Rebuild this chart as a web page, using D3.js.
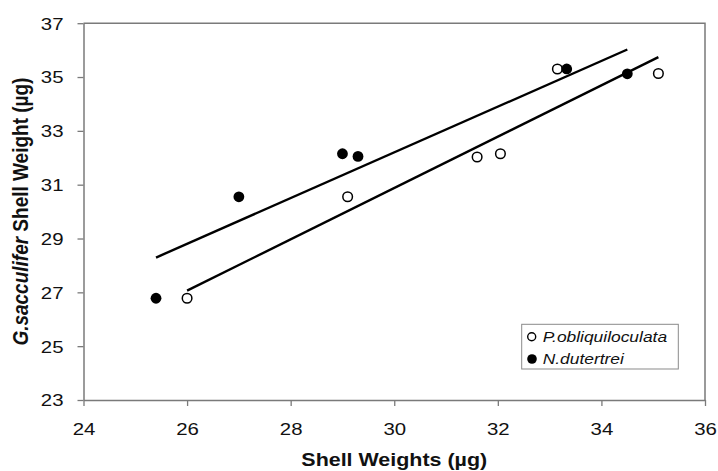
<!DOCTYPE html>
<html>
<head>
<meta charset="utf-8">
<script src="https://cdn.jsdelivr.net/npm/d3@7"></script>
<style>
  html, body { margin: 0; padding: 0; background: #fff; }
  svg { display: block; font-family: "Liberation Sans", Arial, sans-serif; }
</style>
</head>
<body>
<svg id="chart" width="718" height="471"></svg>
<script>
// Shell weights (µg): x = species weight, y = G.sacculifer weight
const obliqX = [26.0, 29.1, 31.6, 32.05, 33.15, 35.1];
const obliqY = [26.78, 30.55, 32.03, 32.15, 35.3, 35.13];
const duterX = [25.4, 27.0, 29.0, 29.3, 33.33, 34.5];
const duterY = [26.78, 30.55, 32.15, 32.05, 35.3, 35.12];
const seriesNames = ["P.obliquiloculata", "N.dutertrei"];
const xTicks = [24, 26, 28, 30, 32, 34, 36];
const yTicks = [23, 25, 27, 29, 31, 33, 35, 37];

const W = 718, H = 471;
const m = { top: 23.2, left: 83.5, right: 13, bottom: 71 };
const innerW = W - m.left - m.right;
const innerH = H - m.top - m.bottom;
const sx = 1.2; // horizontal glyph widening of the typeface
const axisGray = "#7a7a7a";

const svg = d3.select("#chart");
const g = svg.append("g").attr("transform", `translate(${m.left},${m.top})`);

const x = d3.scaleLinear().domain([24, 36]).range([0, innerW]);
const y = d3.scaleLinear().domain([23, 37]).range([innerH, 0]);

// frame: top and right edges
g.append("path")
  .attr("d", `M0,0H${innerW}V${innerH}`)
  .attr("fill", "none").attr("stroke", axisGray).attr("stroke-width", 1.5);

// axes
const xAxis = g.append("g").attr("transform", `translate(0,${innerH})`)
  .call(d3.axisBottom(x).tickValues(xTicks).tickSize(6).tickSizeOuter(0).tickFormat(d3.format("d")));
const yAxis = g.append("g")
  .call(d3.axisLeft(y).tickValues(yTicks).tickSize(6).tickSizeOuter(0).tickFormat(d3.format("d")));

[xAxis, yAxis].forEach(a => {
  a.select(".domain").attr("stroke", axisGray).attr("stroke-width", 1.5);
  a.selectAll(".tick line").attr("stroke", axisGray).attr("stroke-width", 1.3);
  a.selectAll(".tick text")
    .attr("font-family", "Liberation Sans, Arial, sans-serif")
    .attr("font-size", 17).attr("fill", "#111");
});
xAxis.selectAll(".tick text")
  .attr("y", 0).attr("dy", 0).attr("text-anchor", "middle")
  .attr("transform", `translate(0,34.5) scale(${sx},1)`);
yAxis.selectAll(".tick text")
  .attr("x", 0).attr("dy", "0.35em").attr("text-anchor", "end")
  .attr("transform", `translate(-20,0) scale(${sx},1)`);

// least-squares trend line over each series' x-range
function fit(xs, ys) {
  const mx = d3.mean(xs), my = d3.mean(ys);
  let sxy = 0, sxx = 0;
  xs.forEach((v, i) => { sxy += (v - mx) * (ys[i] - my); sxx += (v - mx) * (v - mx); });
  const b = sxy / sxx, a = my - b * mx;
  const x0 = d3.min(xs), x1 = d3.max(xs);
  return [[x0, a + b * x0], [x1, a + b * x1]];
}
const line = d3.line().x(d => x(d[0])).y(d => y(d[1]));
[[duterX, duterY], [obliqX, obliqY]].forEach(([xs, ys]) => {
  g.append("path").attr("d", line(fit(xs, ys)))
    .attr("fill", "none").attr("stroke", "#000").attr("stroke-width", 2.4);
});

// points
g.append("g").selectAll("circle").data(obliqX.map((v, i) => [v, obliqY[i]]))
  .join("circle")
  .attr("cx", d => x(d[0])).attr("cy", d => y(d[1])).attr("r", 4.8)
  .attr("fill", "#fff").attr("stroke", "#000").attr("stroke-width", 1.5);
g.append("g").selectAll("circle").data(duterX.map((v, i) => [v, duterY[i]]))
  .join("circle")
  .attr("cx", d => x(d[0])).attr("cy", d => y(d[1])).attr("r", 5.4)
  .attr("fill", "#000");

// legend
const lg = svg.append("g").attr("transform", "translate(521.7,324.3)");
lg.append("rect").attr("width", 156.6).attr("height", 44.7)
  .attr("fill", "#fff").attr("stroke", "#8a8a8a").attr("stroke-width", 1);
seriesNames.forEach((name, i) => {
  const cy = 12.4 + i * 22.3;
  if (i === 0) {
    lg.append("circle").attr("cx", 10).attr("cy", cy).attr("r", 4)
      .attr("fill", "#fff").attr("stroke", "#000").attr("stroke-width", 1.4);
  } else {
    lg.append("circle").attr("cx", 10.3).attr("cy", cy).attr("r", 4.8).attr("fill", "#000");
  }
  lg.append("text")
    .attr("transform", `translate(21,${cy + 5}) scale(1.2,1)`)
    .attr("font-size", 14.5).attr("font-style", "italic").attr("fill", "#111")
    .text(name);
});

// axis titles
svg.append("text")
  .attr("transform", `translate(${m.left + innerW / 2},466) scale(1.16,1)`)
  .attr("text-anchor", "middle").attr("font-size", 18.5).attr("font-weight", "bold")
  .attr("fill", "#111")
  .text("Shell Weights (µg)");

const yt = svg.append("text")
  .attr("transform", `translate(28,${m.top + innerH / 2}) rotate(-90) scale(1,1.16)`)
  .attr("text-anchor", "middle").attr("font-size", 19).attr("font-weight", "bold")
  .attr("fill", "#111");
yt.append("tspan").attr("font-style", "italic").text("G.sacculifer");
yt.append("tspan").text(" Shell Weight (µg)");
</script>
</body>
</html>
